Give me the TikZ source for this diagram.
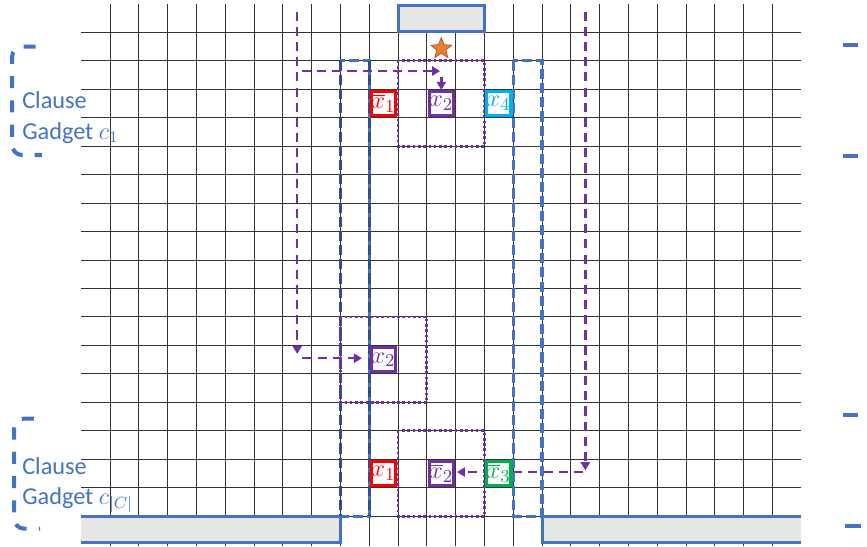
\documentclass[tikz,border=0pt]{standalone}
\usepackage{fontspec}
\setmainfont{Carlito}
\usepackage{tikz}
\usetikzlibrary{arrows.meta,shapes.geometric,backgrounds}

\definecolor{gadgetblue}{HTML}{4472C4}
\definecolor{colnavy}{HTML}{2F4F86}
\definecolor{varpurple}{HTML}{7030A0}
\definecolor{varcyan}{HTML}{00B0F0}
\definecolor{vargreen}{HTML}{00B050}
\definecolor{barfill}{HTML}{E6E6E6}
\definecolor{staror}{HTML}{ED7D31}

\begin{document}
\begin{tikzpicture}[
  x=5mm, y=4.94mm,
  gridline/.style={draw=black!80, line width=0.5pt},
  bar/.style={fill=barfill, draw=gadgetblue, line width=1.5pt},
  column/.style={draw=gadgetblue, line width=1.6pt, dash pattern=on 5pt off 2pt},
  window/.style={draw=varpurple, line width=1.4pt, dash pattern=on 1.3pt off 1.3pt},
  var/.style={draw=#1, text=#1, fill=white, line width=1.5pt, minimum size=4.2mm, inner sep=0pt, font=\fontsize{13}{15}\selectfont},
  flow/.style={draw=varpurple, line width=1.2pt, dash pattern=on 4.5pt off 3pt, -{Triangle[length=4pt,width=4.5pt]}},
  brace/.style={draw=gadgetblue, line width=2pt, dash pattern=on 6pt off 6pt, dash phase=9pt, rounded corners=5pt},
  gadgetlabel/.style={anchor=west, align=left, text=gadgetblue, inner sep=0pt, font=\fontsize{12}{15}\selectfont}
]
\useasboundingbox (-2.82,0.137) rectangle (27.28,-19.06);

% grid
\begin{scope}[on background layer]
  \foreach \i in {1,...,24}
    \draw[gridline] (\i,0) -- (\i,-19.06);
  \foreach \k in {1,...,18}
    \draw[gridline] (0,-\k) -- (25,-\k);
\end{scope}

% walls
\draw[bar] (11,-0.04) rectangle (14,-0.98);
\fill[barfill] (0,-18) rectangle (9,-18.92);
\draw[gadgetblue, line width=1.5pt] (0,-18) -- (9,-18) -- (9,-18.92) -- (0,-18.92);
\fill[barfill] (16,-18) rectangle (25,-18.92);
\draw[gadgetblue, line width=1.5pt] (25,-18) -- (16,-18) -- (16,-18.92) -- (25,-18.92);

% columns and windows
\draw[column] (9,-2) rectangle (10,-18);
\draw[column, draw=colnavy] (9,-2) -- (9,-18) (10,-2) -- (10,-18);
\draw[column] (15,-2) rectangle (16,-18);
\draw[window] (11,-2) rectangle (14,-5);
\draw[window] (9,-11) rectangle (12,-14);
\draw[window] (11,-15) rectangle (14,-18);

\node[star, star points=5, star point ratio=2.3, fill=staror, draw=staror!75!black, line width=0.4pt, minimum size=3.8mm, inner sep=0pt] (goal) at (12.5,-1.57) {};

% literals
\node[var=red] (nx1top) at (10.5,-3.5) {$\overline{x}_1$};
\node[var=varpurple] (x2top) at (12.5,-3.5) {$x_2$};
\node[var=varcyan] (x4top) at (14.5,-3.5) {$x_4$};
\node[var=varpurple] (x2mid) at (10.5,-12.5) {$x_2$};
\node[var=red] (x1bot) at (10.5,-16.5) {$x_1$};
\node[var=varpurple] (nx2bot) at (12.5,-16.5) {$\overline{x}_2$};
\node[var=vargreen] (nx3bot) at (14.5,-16.5) {$\overline{x}_3$};

% paths
\coordinate (entryL) at (7.5,-0.27);
\coordinate (dropL) at (7.5,-12.3);
\coordinate (entryT) at (7.66,-2.36);
\coordinate (turnT) at (12.46,-2.36);
\coordinate (dropT) at (12.5,-2.56);
\coordinate (entryM) at (7.68,-12.45);
\coordinate (entryR) at (17.5,-0.27);
\coordinate (dropR) at (17.5,-16.39);
\coordinate (backR) at (17.42,-16.45);

\draw[flow] (entryL) -- (dropL);
\draw[flow] (entryT) -- (turnT);
\draw[flow, solid] (dropT) -- (x2top);
\draw[flow, shorten >=4pt] (entryM) -- (entryM -| x2mid.west);
\draw[flow] (entryR) -- (dropR);
\begin{scope}[on background layer]
  \draw[flow, shorten >=1pt] (backR) -- (backR -| nx2bot.east);
\end{scope}

% gadget labels
\node[gadgetlabel] (lab1) at (-2.06,-4.0) {Clause\\Gadget $c_1$};
\node[gadgetlabel] (lab2) at (-2.06,-16.9) {Clause\\Gadget $c_{|C|}$};
\draw[brace] (-1.37,-1.5) -- (-2.40,-1.5) -- (-2.40,-5.31) -- (-1.37,-5.31);
\draw[brace] (-1.43,-14.57) -- (-2.33,-14.57) -- (-2.33,-18.44) -- (-1.43,-18.44);
\draw[gadgetblue, line width=2pt] (26.46,-1.45) -- (26.96,-1.45);
\draw[gadgetblue, line width=2pt] (26.46,-5.35) -- (26.96,-5.35);
\draw[gadgetblue, line width=2pt] (26.46,-14.44) -- (26.96,-14.44);
\draw[gadgetblue, line width=2pt] (26.52,-18.36) -- (27.08,-18.36);
\end{tikzpicture}
\end{document}
